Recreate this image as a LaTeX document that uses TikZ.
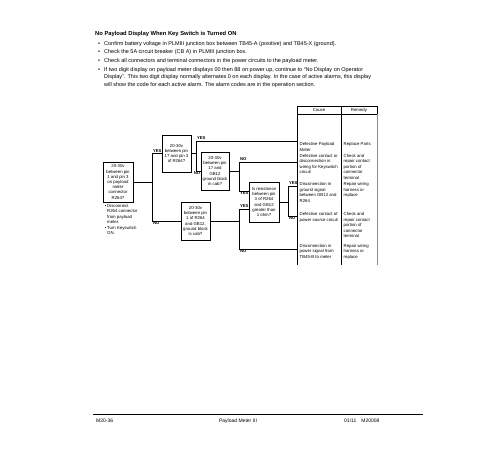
\documentclass[tikz,border=0pt]{standalone}
\usepackage{fontspec}
\setmainfont{Liberation Sans}
\begin{document}
\begin{tikzpicture}[x=1pt,y=-1pt,
  txt/.style={inner sep=0pt, anchor=base west, font=\fontsize{5.5}{7.5}\selectfont},
  cell/.style={inner sep=0pt, anchor=north west, align=left, font=\fontsize{4.3}{5.5}\selectfont},
  qbox/.style={draw, line width=0.75pt, inner sep=0pt, align=center, font=\fontsize{4.3}{5.2}\selectfont},
  lab/.style={inner sep=0.3pt, font=\bfseries\fontsize{4.2}{5}\selectfont},
  wire/.style={line width=0.45pt}]
\useasboundingbox (0,0) rectangle (500,450);

% ---------- heading and bullets ----------
\node[txt, font=\bfseries\fontsize{5.8}{7.5}\selectfont] (title) at (95,35) {No Payload Display When Key Switch is Turned ON};
\node[txt] (d1) at (98,45) {•};
\node[txt] (b1) at (104,45) {Confirm battery voltage in PLMIII junction box between TB45-A (positive) and TB45-X (ground).};
\node[txt] (d2) at (98,53.5) {•};
\node[txt] (b2) at (104,53.5) {Check the 5A circuit breaker (CB A) in PLMIII junction box.};
\node[txt] (d3) at (98,62) {•};
\node[txt] (b3) at (104,62) {Check all connectors and terminal connectors in the power circuits to the payload meter.};
\node[txt] (d4) at (98,71) {•};
\node[txt, anchor=north west, align=left, yshift=4pt] (b4) at (104,71) {If two digit display on payload meter displays 00 then 88 on power up, continue to “No Display on Operator\\Display”. This two digit display normally alternates 0 on each display. In the case of active alarms, this display\\will show the code for each active alarm. The alarm codes are in the operation section.};

% ---------- table ----------
\draw[line width=0.6pt] (297,106) rectangle (341,114);
\draw[line width=0.6pt] (341,106) -- (377,106) -- (377,114) -- (341,114);
\draw[line width=0.7pt] (297,114) -- (297,265);
\draw[line width=0.5pt] (341,114) -- (341,265);
\draw[line width=0.5pt, black!45] (377,114) -- (377,265);
\node[cell, anchor=center] (hc) at (319,110.2) {Cause};
\node[cell, anchor=center] (hr) at (359,110.2) {Remedy};

\node[cell] (c1) at (299.5,142.5) {Defective Payload\\Meter};
\node[cell] (c2) at (299.5,154) {Defective contact or\\disconnection in\\wiring for Keyswitch\\circuit};
\node[cell] (c3) at (299.5,182.5) {Disconnection in\\ground signal\\between GB12 and\\R264};
\node[cell] (c4) at (299.5,212.5) {Defective contact of\\power source circuit};
\node[cell] (c5) at (299.5,244) {Disconnection in\\power signal from\\TB45-B to meter};

\node[cell] (r1) at (343.5,142.5) {Replace Parts};
\node[cell] (r2) at (343.5,154) {Check and\\repair contact\\portion of\\connector\\terminal};
\node[cell] (r3) at (343.5,182.5) {Repair wiring\\harness or\\replace};
\node[cell] (r4) at (343.5,212.5) {Check and\\repair contact\\portion of\\connector\\terminal};
\node[cell] (r5) at (343.5,244) {Repair wiring\\harness or\\replace};

% ---------- question boxes ----------
\node[qbox, minimum width=30pt, minimum height=40pt] (A) at (118,182) {20-30v\\between pin\\1 and pin 3\\on payload\\meter\\connector\\R264?};
\node[qbox, minimum width=29pt, minimum height=37pt] (B) at (176.5,153.5) {20-30v\\between pin\\17 and pin 3\\of R264?};
\node[qbox, minimum width=28pt, minimum height=38pt] (C) at (215,171) {20-30v\\between pin\\17 and\\GB12\\ground block\\in cab?};
\node[qbox, minimum width=29pt, minimum height=38pt] (D) at (195.5,221) {20-30v\\between pin\\1 of R264\\and GB12,\\ground block\\is cab?};
\node[qbox, minimum width=30pt, minimum height=40pt] (E) at (264,202) {Is resistance\\between pin\\3 of R264\\and GB12\\greater than\\1 ohm?};

\node[cell] (n1) at (107,204) {\llap{•\,}Disconnect\\R264 connector\\from payload\\meter.\\\llap{•\,}Turn Keyswitch\\ON.};

% ---------- junctions ----------
\coordinate (j1) at (152,182);
\coordinate (j1t) at (152,153.5);
\coordinate (j1b) at (152,221);
\coordinate (j2) at (196,153.5);
\coordinate (j2t) at (196,141);
\coordinate (j2b) at (196,171);
\coordinate (j3) at (239,171);
\coordinate (j3t) at (239,162);
\coordinate (j3b) at (239,191);
\coordinate (j5) at (239,221);
\coordinate (j5t) at (239,209);
\coordinate (j5b) at (239,249);
\coordinate (j4) at (288,202);
\coordinate (j4t) at (288,186);
\coordinate (j4b) at (288,216);
\coordinate (t1) at (297,141);
\coordinate (t2) at (297,162);
\coordinate (t3) at (297,186);
\coordinate (t4) at (297,216);
\coordinate (t5) at (297,249);
\coordinate (e1) at (249,191);
\coordinate (e2) at (249,209);

\draw[wire] (A.east) -- (j1);
\draw[wire] (j1t) -- (j1b);
\draw[wire] (j1t) -- (B.west);
\draw[wire] (j1b) -- (D.west);

\draw[wire] (B.east) -- (j2);
\draw[wire] (j2t) -- (j2b);
\draw[wire] (j2t) -- (t1);
\draw[wire] (j2b) -- (C.west);

\draw[wire] (C.east) -- (j3);
\draw[wire] (j3t) -- (j3b);
\draw[wire] (j3t) -- (t2);
\draw[wire] (j3b) -- (e1);

\draw[wire] (D.east) -- (j5);
\draw[wire] (j5t) -- (j5b);
\draw[wire] (j5t) -- (e2);
\draw[wire] (j5b) -- (t5);

\draw[wire] (E.east) -- (j4);
\draw[wire] (j4t) -- (j4b);
\draw[wire] (j4t) -- (t3);
\draw[wire] (j4b) -- (t4);

% ---------- labels ----------
\node[lab, anchor=south west] (l1) at (152.5,153) {YES};
\node[lab, anchor=north west] (l2) at (152.5,221.5) {NO};
\node[lab, anchor=south west] (l3) at (196.5,140.5) {YES};
\node[lab, anchor=north] (l4) at (197,171.5) {NO};
\node[lab, anchor=south west] (l5) at (239.5,161.5) {NO};
\node[lab, anchor=north west] (l6) at (239.5,191.5) {YES};
\node[lab, anchor=south west] (l7) at (239.5,208.5) {YES};
\node[lab, anchor=north west] (l8) at (239.5,249.5) {NO};
\node[lab, anchor=south west] (l9) at (288.5,185.5) {YES};
\node[lab, anchor=north west] (l10) at (288.5,216.5) {NO};

% ---------- footer ----------
\draw[line width=0.8pt] (93,414) -- (423,414);
\node[txt, font=\fontsize{5}{6}\selectfont] (f1) at (96,422) {M20-36};
\node[txt, anchor=base, font=\fontsize{5}{6}\selectfont] (f2) at (238,422) {Payload Meter III};
\node[txt, font=\fontsize{5}{6}\selectfont] (f3) at (344,422) {01/11\quad M20008};
\end{tikzpicture}
\end{document}
